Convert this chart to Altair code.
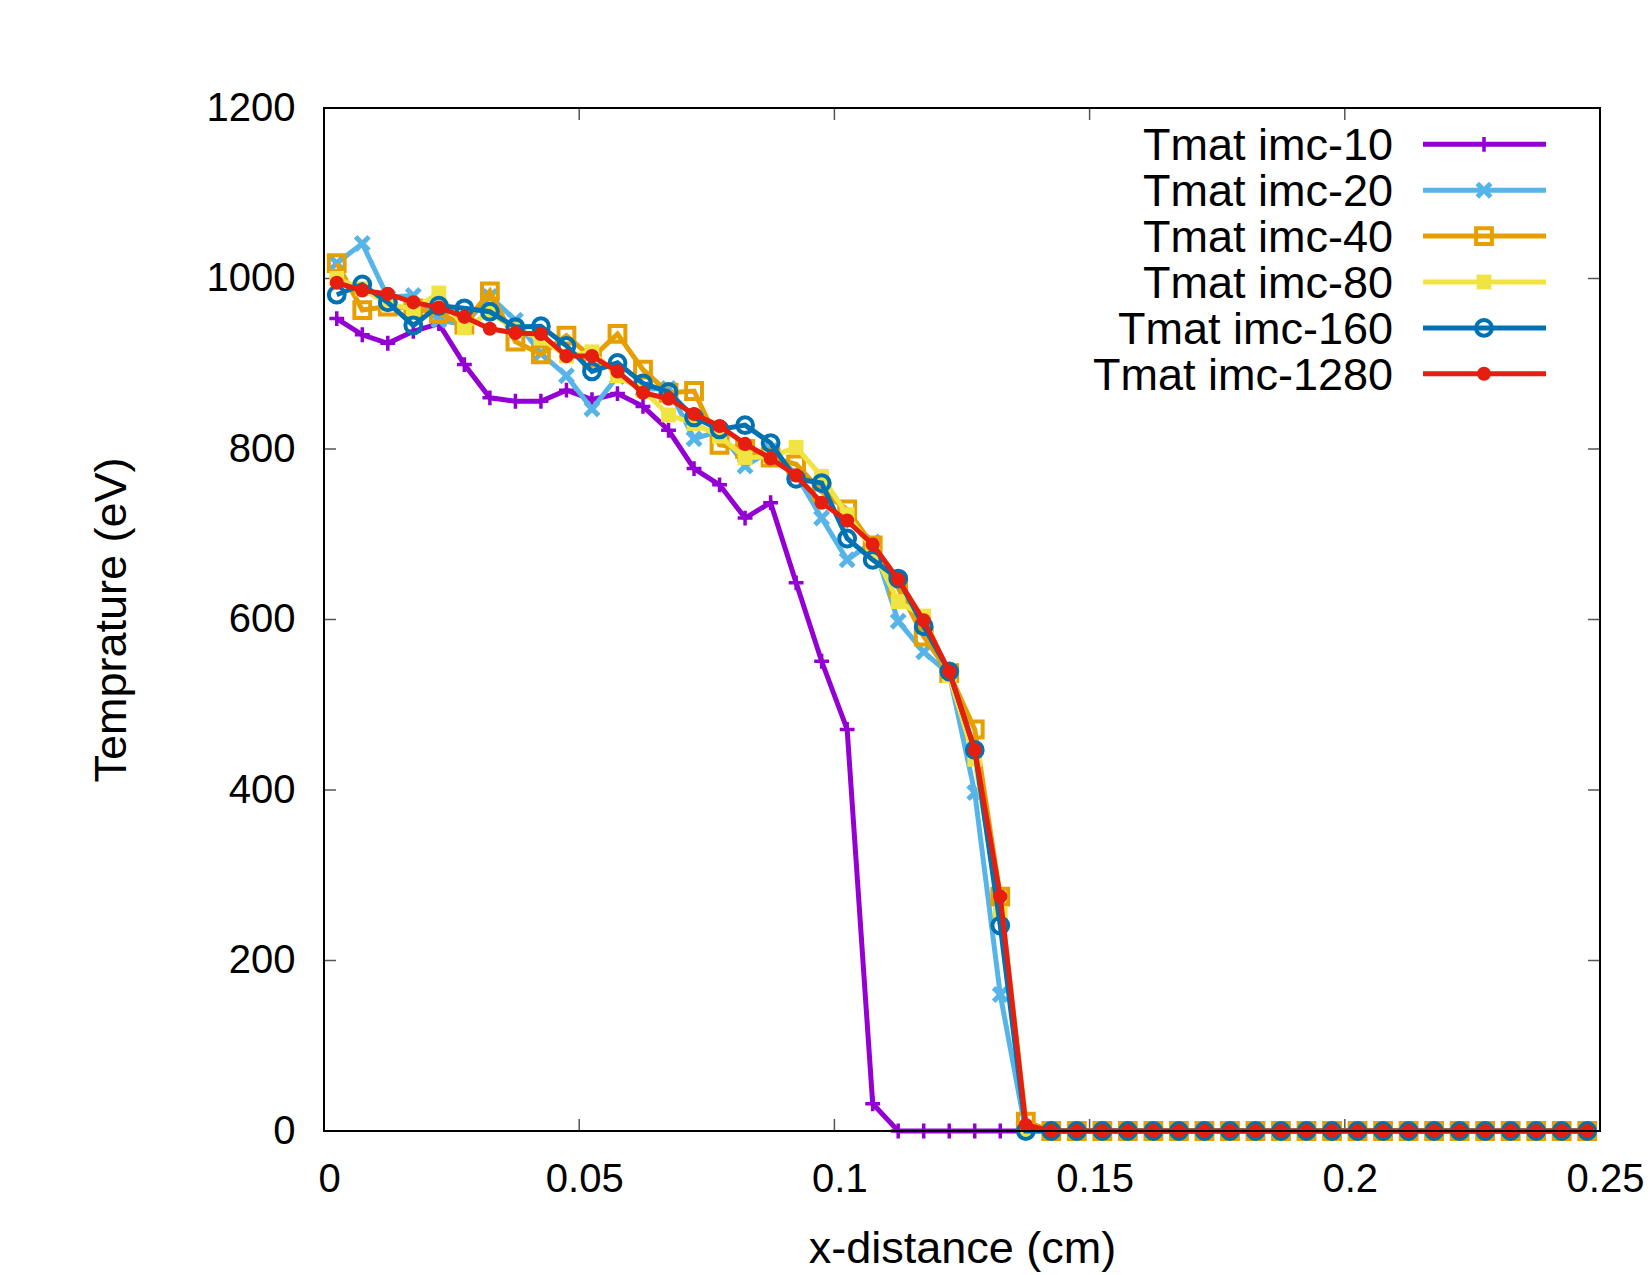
import altair as alt
import pandas as pd

# Cell-centre positions along x (cm)
x_cm = [0.0025, 0.0075, 0.0125, 0.0175, 0.0225, 0.0275, 0.0325, 0.0375, 0.0425, 0.0475,
        0.0525, 0.0575, 0.0625, 0.0675, 0.0725, 0.0775, 0.0825, 0.0875, 0.0925, 0.0975,
        0.1025, 0.1075, 0.1125, 0.1175, 0.1225, 0.1275, 0.1325, 0.1375, 0.1425, 0.1475,
        0.1525, 0.1575, 0.1625, 0.1675, 0.1725, 0.1775, 0.1825, 0.1875, 0.1925, 0.1975,
        0.2025, 0.2075, 0.2125, 0.2175, 0.2225, 0.2275, 0.2325, 0.2375, 0.2425, 0.2475]

# Material temperature (eV) for each run
tmat_imc_10 = [953, 934, 924, 938, 947, 899, 860, 856, 856, 869,
               858, 865, 850, 822, 777, 758, 719, 737, 643, 551,
               471, 32, 0, 0, 0, 0, 0, 0, 0, 0,
               0, 0, 0, 0, 0, 0, 0, 0, 0, 0,
               0, 0, 0, 0, 0, 0, 0, 0, 0, 0]
tmat_imc_20 = [1018, 1041, 978, 980, 951, 946, 979, 951, 912, 886,
               847, 885, 870, 871, 812, 821, 780, 798, 770, 719,
               670, 691, 598, 562, 536, 397, 160, 0, 0, 0,
               0, 0, 0, 0, 0, 0, 0, 0, 0, 0,
               0, 0, 0, 0, 0, 0, 0, 0, 0, 0]
tmat_imc_40 = [1018, 963, 967, 965, 959, 946, 985, 926, 911, 933,
               907, 935, 893, 866, 868, 805, 800, 790, 782, 750,
               729, 687, 637, 580, 537, 471, 275, 11, 0, 0,
               0, 0, 0, 0, 0, 0, 0, 0, 0, 0,
               0, 0, 0, 0, 0, 0, 0, 0, 0, 0]
tmat_imc_80 = [1000, 988, 970, 964, 983, 942, 960, 940, 930, 909,
               914, 886, 869, 840, 830, 815, 790, 791, 802, 768,
               723, 682, 621, 604, 534, 436, 255, 0, 0, 0,
               0, 0, 0, 0, 0, 0, 0, 0, 0, 0,
               0, 0, 0, 0, 0, 0, 0, 0, 0, 0]
tmat_imc_160 = [981, 993, 972, 945, 968, 965, 961, 943, 944, 921,
                891, 901, 877, 867, 837, 823, 828, 807, 765, 760,
                695, 670, 648, 592, 539, 447, 241, 0, 0, 0,
                0, 0, 0, 0, 0, 0, 0, 0, 0, 0,
                0, 0, 0, 0, 0, 0, 0, 0, 0, 0]
tmat_imc_1280 = [995, 986, 982, 972, 966, 955, 941, 936, 935, 909,
                 909, 891, 866, 859, 841, 827, 806, 789, 769, 737,
                 716, 688, 647, 599, 539, 447, 275, 7, 0, 0,
                 0, 0, 0, 0, 0, 0, 0, 0, 0, 0,
                 0, 0, 0, 0, 0, 0, 0, 0, 0, 0]

series_names = ["Tmat imc-10", "Tmat imc-20", "Tmat imc-40",
                "Tmat imc-80", "Tmat imc-160", "Tmat imc-1280"]
series_values = [tmat_imc_10, tmat_imc_20, tmat_imc_40,
                 tmat_imc_80, tmat_imc_160, tmat_imc_1280]

x_ticks = [0, 0.05, 0.1, 0.15, 0.2, 0.25]
y_ticks = [0, 200, 400, 600, 800, 1000, 1200]

FONT = "Liberation Sans"
W, H = 1276, 1023
LINE_W = 5

# line colour, marker shape, marker size, filled, marker stroke width
styles = [
    ("#9400D3", "M-1,0L1,0M0,-1L0,1", 220, False, 3.5),
    ("#56B4E9", "M-1,-1L1,1M-1,1L1,-1", 180, False, 5),
    ("#E69F00", "square", 250, False, 4),
    ("#F0E442", "square", 220, True, 0),
    ("#0072B2", "circle", 250, False, 4),
    ("#E51E10", "circle", 200, True, 0),
]

xscale = alt.Scale(domain=[0, 0.25], nice=False, zero=False)
yscale = alt.Scale(domain=[0, 1200], nice=False, zero=False)

x_axis = alt.Axis(values=x_ticks, format="~g", title="x-distance (cm)",
                  domain=False, ticks=False, tickSize=0, grid=False,
                  labelFont=FONT, labelFontSize=40, labelColor="black",
                  labelPadding=60, labelBaseline="alphabetic", labelOffset=5,
                  labelFlush=False, labelOverlap=False,
                  titleFont=FONT, titleFontSize=45, titleFontWeight="normal",
                  titleColor="black", titleX=638, titleY=131,
                  titleBaseline="alphabetic", titleAlign="center")
y_axis = alt.Axis(values=y_ticks, format="d", title="Temprature (eV)",
                  domain=False, ticks=False, tickSize=0, grid=False,
                  labelFont=FONT, labelFontSize=40, labelColor="black",
                  labelPadding=29, labelBaseline="middle",
                  labelFlush=False, labelOverlap=False,
                  titleFont=FONT, titleFontSize=45, titleFontWeight="normal",
                  titleColor="black", titleAngle=270, titleX=-199, titleY=H / 2,
                  titleBaseline="alphabetic", titleAlign="center")

layers = []

# inward tick marks on all four sides
ytick_df = pd.DataFrame({"v": y_ticks})
xtick_df = pd.DataFrame({"v": x_ticks})
tick_style = dict(color="#555555", strokeWidth=1.5)
layers.append(alt.Chart(ytick_df).mark_rule(**tick_style).encode(
    y=alt.Y("v:Q", scale=yscale, axis=y_axis), x=alt.value(0), x2=alt.value(12)))
layers.append(alt.Chart(ytick_df).mark_rule(**tick_style).encode(
    y=alt.Y("v:Q", scale=yscale, axis=y_axis), x=alt.value(W - 12), x2=alt.value(W)))
layers.append(alt.Chart(xtick_df).mark_rule(**tick_style).encode(
    x=alt.X("v:Q", scale=xscale, axis=x_axis), y=alt.value(H), y2=alt.value(H - 12)))
layers.append(alt.Chart(xtick_df).mark_rule(**tick_style).encode(
    x=alt.X("v:Q", scale=xscale, axis=x_axis), y=alt.value(0), y2=alt.value(12)))

# one line + markers per run, drawn in order
for k, (name, vals) in enumerate(zip(series_names, series_values)):
    color, shape, size, filled, sw = styles[k]
    df = pd.DataFrame({"x": x_cm, "T": vals})
    enc = dict(x=alt.X("x:Q", scale=xscale, axis=x_axis),
               y=alt.Y("T:Q", scale=yscale, axis=y_axis))
    layers.append(alt.Chart(df).mark_line(color=color, strokeWidth=LINE_W).encode(**enc))
    if filled:
        pt = alt.Chart(df).mark_point(shape=shape, size=size, filled=True,
                                      color=color, opacity=1, strokeWidth=0)
    else:
        pt = alt.Chart(df).mark_point(shape=shape, size=size, filled=False,
                                      color=color, opacity=1, strokeWidth=sw)
    layers.append(pt.encode(**enc))

# plot border, drawn over the data
border_df = pd.DataFrame({"b": [0]})
layers.append(alt.Chart(border_df).mark_rect(fillOpacity=0, stroke="black", strokeWidth=2).encode(
    x=alt.value(0), x2=alt.value(W), y=alt.value(0), y2=alt.value(H)))

# key: label text on the left, line sample with marker on the right
key_df = pd.DataFrame({"series": series_names, "row": list(range(len(series_names)))})
layers.append(alt.Chart(key_df).mark_text(
    align="right", baseline="alphabetic", font=FONT, fontSize=45, color="black"
).transform_calculate(ly="52.3 + 45.9 * datum.row").encode(
    x=alt.value(1069), y=alt.Y("ly:Q", scale=None), text="series:N"))
for k, name in enumerate(series_names):
    color, shape, size, filled, sw = styles[k]
    one = key_df[key_df["series"] == name]
    base = alt.Chart(one).transform_calculate(ly="36.3 + 45.9 * datum.row")
    layers.append(base.mark_rule(color=color, strokeWidth=LINE_W).encode(
        x=alt.value(1099), x2=alt.value(1222), y=alt.Y("ly:Q", scale=None)))
    if filled:
        mk = base.mark_point(shape=shape, size=size, filled=True, color=color,
                             opacity=1, strokeWidth=0)
    else:
        mk = base.mark_point(shape=shape, size=size, filled=False, color=color,
                             opacity=1, strokeWidth=sw)
    layers.append(mk.encode(x=alt.value(1160), y=alt.Y("ly:Q", scale=None)))

chart = alt.layer(*layers).properties(
    width=W, height=H,
    padding={"left": 324, "top": 108, "right": 50, "bottom": 144},
    autosize=alt.AutoSizeParams(type="none"),
    background="white",
).configure_view(stroke=None)

chart.save("out.html", embed_options={"renderer": "svg", "actions": False})
